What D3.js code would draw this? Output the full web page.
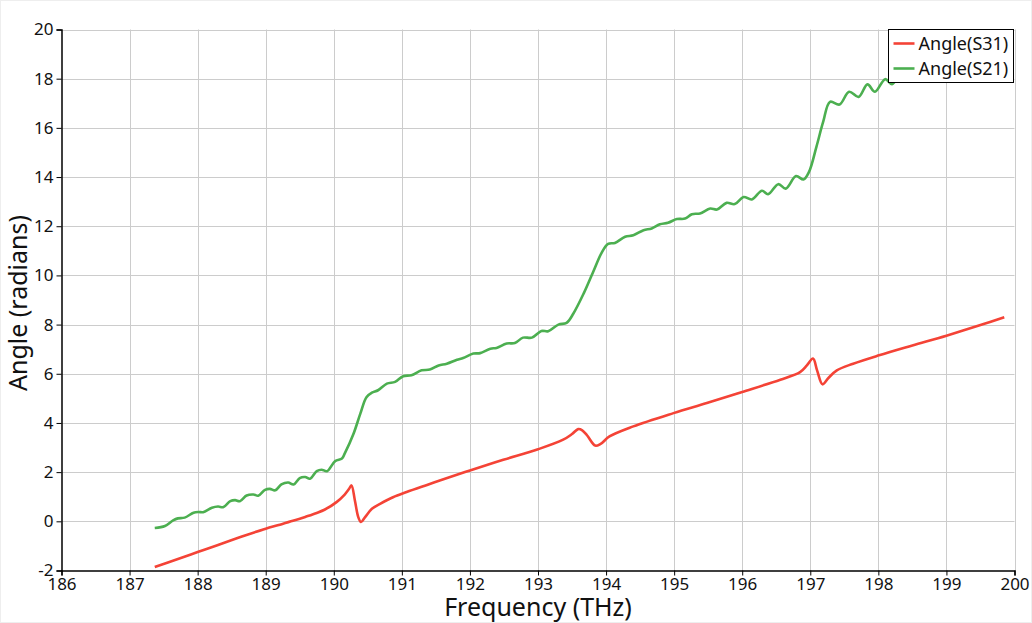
<!DOCTYPE html>
<html>
<head>
<meta charset="utf-8">
<script src="https://d3js.org/d3.v7.min.js"></script>
<style>
  html, body { margin: 0; padding: 0; background: #fff; }
  text { font-family: "Noto Sans", "Open Sans", sans-serif; fill: #111; }
</style>
</head>
<body>
<div id="chart"></div>
<script>
// Data
var freqS31 = [187.37, 187.7, 188.0, 188.3, 188.65, 189.0, 189.19, 189.4, 189.58, 189.75, 189.87,
  190.04, 190.16, 190.22, 190.26, 190.31, 190.36, 190.40, 190.46, 190.56, 190.68, 190.87,
  191.07, 191.37, 191.6, 192.0, 192.49, 193.0, 193.37, 193.50, 193.59, 193.65, 193.72, 193.84,
  193.92, 194.05, 194.40, 194.99, 195.48, 196.0, 196.56, 196.85, 196.95, 197.04, 197.10,
  197.18, 197.27, 197.39, 197.63, 198.01, 198.5, 199.0, 199.5, 199.85];
var angleS31 = [-1.86, -1.54, -1.25, -0.96, -0.62, -0.30, -0.15, 0.02, 0.18, 0.34, 0.48,
  0.78, 1.09, 1.30, 1.46, 0.85, 0.17, -0.03, 0.17, 0.51, 0.71, 0.98,
  1.19, 1.48, 1.70, 2.07, 2.50, 2.93, 3.32, 3.55, 3.75, 3.70, 3.50, 3.08,
  3.15, 3.45, 3.86, 4.40, 4.81, 5.26, 5.76, 6.07, 6.34, 6.62, 6.14,
  5.57, 5.84, 6.14, 6.41, 6.75, 7.15, 7.55, 7.98, 8.30];

var freqS21 = [187.37, 187.52, 187.64, 187.71, 187.81, 187.94, 188.01, 188.08, 188.21, 188.30,
  188.38, 188.48, 188.55, 188.62, 188.72, 188.82, 188.89, 188.99, 189.06, 189.14, 189.23,
  189.33, 189.41, 189.50, 189.58, 189.65, 189.75, 189.82, 189.90, 190.02, 190.12, 190.16,
  190.29, 190.39, 190.48, 190.56, 190.65, 190.78, 190.90, 191.02, 191.14, 191.29, 191.41,
  191.54, 191.66, 191.81, 191.90, 192.05, 192.15, 192.30, 192.39, 192.54, 192.66, 192.78,
  192.91, 193.05, 193.15, 193.30, 193.42, 193.52, 193.67, 193.81, 193.94, 194.03, 194.13,
  194.28, 194.40, 194.55, 194.67, 194.79, 194.91, 195.04, 195.16, 195.26, 195.38, 195.53,
  195.63, 195.77, 195.89, 196.02, 196.14, 196.29, 196.38, 196.53, 196.64, 196.79, 196.90,
  196.98, 197.09, 197.19, 197.29, 197.43, 197.57, 197.71, 197.84, 197.95, 198.10, 198.20,
  198.35, 198.48, 198.62, 198.75, 198.90, 199.02, 199.17, 199.30, 199.45, 199.58, 199.72, 199.85];
var angleS21 = [-0.27, -0.19, 0.04, 0.12, 0.15, 0.35, 0.38, 0.37, 0.55, 0.60,
  0.58, 0.82, 0.86, 0.82, 1.05, 1.09, 1.04, 1.28, 1.32, 1.26, 1.50,
  1.58, 1.50, 1.76, 1.80, 1.73, 2.04, 2.10, 2.04, 2.45, 2.55, 2.75,
  3.56, 4.38, 5.05, 5.23, 5.33, 5.60, 5.67, 5.90, 5.94, 6.14, 6.17,
  6.34, 6.41, 6.57, 6.64, 6.82, 6.84, 7.02, 7.05, 7.23, 7.25, 7.47,
  7.47, 7.74, 7.73, 8.00, 8.07, 8.45, 9.26, 10.14, 10.95, 11.28, 11.32,
  11.57, 11.63, 11.84, 11.91, 12.08, 12.14, 12.29, 12.31, 12.49, 12.52, 12.72,
  12.68, 12.95, 12.90, 13.19, 13.09, 13.44, 13.30, 13.71, 13.53, 14.04, 13.90,
  14.20, 15.23, 16.25, 17.06, 16.95, 17.47, 17.26, 17.77, 17.47, 17.98, 17.78,
  18.25, 18.05, 18.50, 18.30, 18.75, 18.55, 19.00, 18.80, 19.25, 19.05, 19.50, 19.35];

var xTicks = [186, 187, 188, 189, 190, 191, 192, 193, 194, 195, 196, 197, 198, 199, 200];
var yTicks = [-2, 0, 2, 4, 6, 8, 10, 12, 14, 16, 18, 20];

var seriesNames = ["Angle(S31)", "Angle(S21)"];
var seriesColors = ["#f44336", "#4caf50"];

var svgWidth = 1032;
var svgHeight = 623;

// plot box edges in px
var plot = { left: 61.5, right: 1014.5, top: 29.5, bottom: 570.5 };

var svg = d3.select("#chart")
  .append("svg")
  .attr("width", svgWidth)
  .attr("height", svgHeight);

// faint page border
svg.append("rect")
  .attr("x", 0.5).attr("y", 0.5)
  .attr("width", svgWidth - 1).attr("height", svgHeight - 1)
  .attr("fill", "none")
  .attr("stroke", "#eeeeee");

var xScale = d3.scaleLinear().domain([186, 200]).range([plot.left, plot.right]);
var yScale = d3.scaleLinear().domain([-2, 20]).range([plot.bottom, plot.top]);

// grid
var grid = svg.append("g").attr("stroke", "#cccccc").attr("stroke-width", 1);
grid.selectAll(".vgrid")
  .data(xTicks.slice(1))
  .enter().append("line")
  .attr("x1", d => Math.round(xScale(d)) + 0.5).attr("x2", d => Math.round(xScale(d)) + 0.5)
  .attr("y1", plot.top).attr("y2", plot.bottom);
grid.selectAll(".hgrid")
  .data(yTicks.slice(1))
  .enter().append("line")
  .attr("y1", d => Math.round(yScale(d)) + 0.5).attr("y2", d => Math.round(yScale(d)) + 0.5)
  .attr("x1", plot.left).attr("x2", plot.right);

// axes (plain hyphen for negatives, like the original)
var xAxis = d3.axisBottom(xScale).tickValues(xTicks).tickSizeOuter(0).tickSize(5).tickPadding(2)
  .tickFormat(d => String(d));
var yAxis = d3.axisLeft(yScale).tickValues(yTicks).tickSizeOuter(0).tickSize(5).tickPadding(3)
  .tickFormat(d => String(d));

var gx = svg.append("g")
  .attr("transform", `translate(0, ${plot.bottom})`)
  .call(xAxis);
var gy = svg.append("g")
  .attr("transform", `translate(${plot.left}, 0)`)
  .call(yAxis);

[gx, gy].forEach(function(g) {
  g.select(".domain").attr("stroke", "#000").attr("stroke-width", 1.5);
  g.selectAll(".tick line").attr("stroke", "#000");
  g.selectAll(".tick text")
    .attr("font-size", "17px")
    .attr("font-family", "Noto Sans, sans-serif")
    .attr("fill", "#111");
});

// lines
var line = d3.line()
  .x(d => xScale(d[0]))
  .y(d => yScale(d[1]))
  .curve(d3.curveCatmullRom.alpha(0.5));

var dataS31 = freqS31.map((f, i) => [f, angleS31[i]]);
var dataS21 = freqS21.map((f, i) => [f, angleS21[i]]);

svg.append("clipPath").attr("id", "clip")
  .append("rect")
  .attr("x", plot.left).attr("y", plot.top)
  .attr("width", plot.right - plot.left).attr("height", plot.bottom - plot.top);

var lines = svg.append("g").attr("clip-path", "url(#clip)");

lines.append("path")
  .datum(dataS21)
  .attr("d", line)
  .attr("fill", "none")
  .attr("stroke", seriesColors[1])
  .attr("stroke-width", 2.6)
  .attr("stroke-linejoin", "round");

lines.append("path")
  .datum(dataS31)
  .attr("d", line)
  .attr("fill", "none")
  .attr("stroke", seriesColors[0])
  .attr("stroke-width", 2.6)
  .attr("stroke-linejoin", "round");

// axis labels
svg.append("text")
  .attr("x", (plot.left + plot.right) / 2)
  .attr("y", 616)
  .attr("text-anchor", "middle")
  .attr("font-size", "25px")
  .text("Frequency (THz)");

svg.append("text")
  .attr("transform", `translate(27, ${(plot.top + plot.bottom) / 2 + 3}) rotate(-90)`)
  .attr("text-anchor", "middle")
  .attr("font-size", "25px")
  .text("Angle (radians)");

// legend
var legend = svg.append("g").attr("transform", "translate(888.5, 29.5)");
legend.append("rect")
  .attr("width", 125).attr("height", 53)
  .attr("fill", "#fff")
  .attr("stroke", "#000")
  .attr("stroke-width", 1);

var items = legend.selectAll(".item")
  .data(seriesNames)
  .enter().append("g")
  .attr("transform", (d, i) => `translate(0, ${14 + i * 25})`);

items.append("line")
  .attr("x1", 5).attr("x2", 26)
  .attr("stroke", (d, i) => seriesColors[i])
  .attr("stroke-width", 2.6);

items.append("text")
  .attr("x", 30)
  .attr("dy", "0.35em")
  .attr("font-size", "18px")
  .text(d => d);
</script>
</body>
</html>
